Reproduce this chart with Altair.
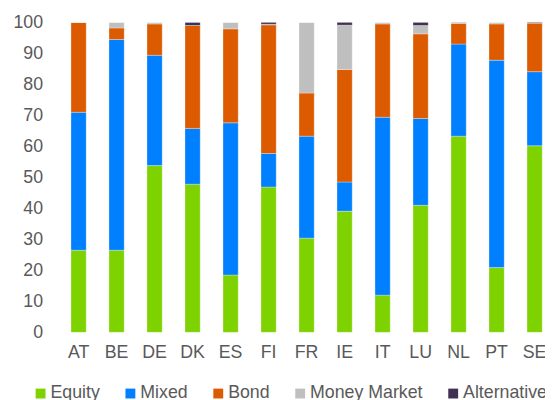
import altair as alt
import pandas as pd

countries = ["AT", "BE", "DE", "DK", "ES", "FI", "FR", "IE", "IT", "LU", "NL", "PT", "SE"]
series = ["Equity", "Mixed", "Bond", "Money Market", "Alternative"]
colors = ["#7ED200", "#007FFF", "#DC5A00", "#BFBFBF", "#403152"]

equity      = [26.5, 26.5, 53.8, 47.8, 18.5, 46.9, 30.4, 39.1, 12.0, 41.0, 63.3, 20.9, 60.2]
mixed       = [44.5, 68.0, 35.6, 18.0, 49.1, 10.8, 32.9,  9.4, 57.4, 28.0, 29.7, 66.9, 23.9]
bond        = [29.0,  3.7, 10.1, 33.2, 30.3, 41.5, 13.9, 36.3, 30.1, 27.3,  6.7, 11.7, 15.7]
money_mkt   = [ 0.0,  1.8,  0.5,  0.0,  2.1,  0.2, 22.8, 14.3,  0.5,  2.7,  0.2,  0.5,  0.0]
alternative = [ 0.0,  0.0,  0.0,  1.0,  0.0,  0.6,  0.0,  0.9,  0.0,  1.0,  0.1,  0.0,  0.2]

values = [equity, mixed, bond, money_mkt, alternative]
rows = []
for si, (name, vals) in enumerate(zip(series, values)):
    for c, v in zip(countries, vals):
        rows.append({"country": c, "type": name, "share": v, "idx": si})
df = pd.DataFrame(rows)

font = "Liberation Sans"
gray = "#595959"

chart = alt.Chart(df).mark_bar(stroke="white", strokeWidth=0.5, strokeOpacity=0.6).encode(
    x=alt.X("country:N", sort=countries,
            scale=alt.Scale(paddingInner=0.6, paddingOuter=0.073),
            axis=alt.Axis(title=None, labelAngle=0, domain=False, ticks=False, tickSize=0,
                          labelPadding=11, labelFont=font, labelFontSize=18, labelColor=gray)),
    y=alt.Y("share:Q", stack="zero",
            scale=alt.Scale(domain=[0, 100], nice=False),
            axis=alt.Axis(title=None, values=list(range(0, 101, 10)), domain=False, ticks=False,
                          tickSize=0, grid=False, labelPadding=26, labelFont=font,
                          labelFontSize=18, labelColor=gray)),
    color=alt.Color("type:N", sort=series,
                    scale=alt.Scale(domain=series, range=colors),
                    legend=alt.Legend(title=None, orient="none", direction="horizontal",
                                      legendX=-37, legendY=367, padding=0,
                                      symbolType="square", symbolSize=100, symbolStrokeWidth=0,
                                      symbolOpacity=1, labelOffset=1, columnPadding=21,
                                      labelLimit=200,
                                      labelFont=font, labelFontSize=18, labelColor=gray)),
    order=alt.Order("idx:Q", sort="ascending"),
).properties(
    width=483, height=314,
    autosize=alt.AutoSizeParams(type="none"),
    padding={"left": 61, "top": 12, "right": 0, "bottom": 70},
).configure_view(stroke=None)

chart.save("out.html", embed_options={"renderer": "svg", "actions": False})
